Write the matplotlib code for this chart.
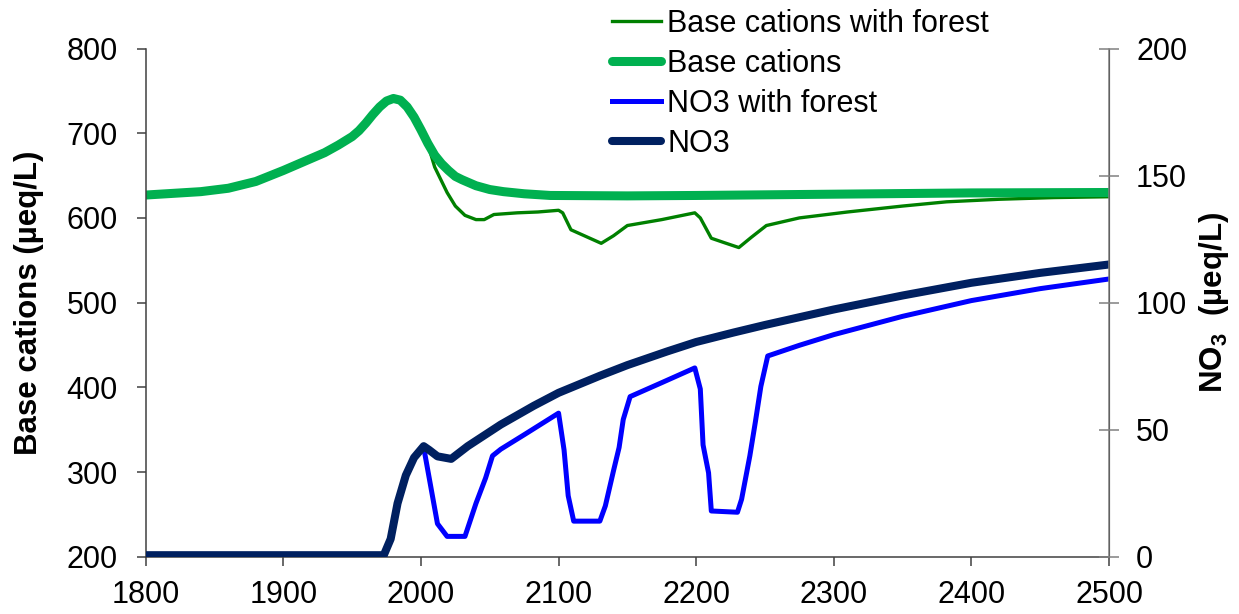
import matplotlib
matplotlib.use('Agg')
import matplotlib.pyplot as plt

plt.rcParams['font.family'] = ['Liberation Sans', 'DejaVu Sans']
plt.rcParams['mathtext.fontset'] = 'custom'
plt.rcParams['mathtext.rm'] = 'Liberation Sans:bold'
plt.rcParams['mathtext.bf'] = 'Liberation Sans:bold'

# Base cations (left axis, ueq/L)
bc_years = [1800, 1820, 1840, 1860, 1880, 1900, 1920, 1930, 1940, 1950, 1955, 1960,
            1965, 1970, 1975, 1980, 1985, 1990, 1995, 2000, 2005, 2010, 2015, 2020,
            2025, 2030, 2040, 2050, 2060, 2075, 2094, 2150, 2200, 2300, 2400, 2500]
bc_values = [627, 629, 631, 635, 643, 656, 670, 677, 686, 696, 703, 712,
             722, 731, 738, 741, 739, 731, 719, 704, 688, 674, 664, 656,
             649, 645, 638, 633.5, 631, 628.5, 626.5, 626, 626.5, 628, 629.5, 630]

bcf_years = [1800, 1820, 1840, 1860, 1880, 1900, 1920, 1930, 1940, 1950, 1955, 1960,
             1965, 1970, 1975, 1980, 1985, 1990, 1995, 2000, 2005, 2010, 2019, 2025,
             2032, 2040, 2046, 2053, 2070, 2085, 2100, 2103, 2109, 2120, 2131, 2140,
             2150, 2175, 2199, 2203, 2211, 2220, 2231, 2240, 2251, 2275, 2310, 2350,
             2382, 2420, 2460, 2500]
bcf_values = [627, 629, 631, 635, 643, 656, 670, 677, 686, 696, 703, 712,
              722, 731, 738, 741, 739, 731, 719, 704, 687, 660, 630, 614,
              603, 598, 598, 604, 606, 607, 609, 606, 586, 578, 570, 579,
              591, 598, 606, 600, 576, 571, 565, 577, 591, 600, 607, 614,
              619, 622, 624, 625]

# NO3 (right axis, ueq/L)
no3_years = [1800, 1973, 1978, 1983, 1989, 1995, 2002, 2006, 2012, 2022, 2034, 2058,
             2082, 2100, 2130, 2150, 2179, 2200, 2227, 2250, 2300, 2350, 2400, 2450,
             2500]
no3_values = [0.6, 0.6, 7, 21, 32, 39, 43.5, 42, 39.5, 38.5, 43.5, 52,
              59.4, 64.5, 71.2, 75.4, 80.8, 84.5, 88.2, 91.2, 97.3, 102.8, 107.8, 111.7,
              115]

no3f_years = [1800, 1973, 1978, 1983, 1989, 1995, 2002, 2007, 2012, 2019, 2032, 2040,
              2047, 2052, 2058, 2075, 2100, 2104, 2107, 2111, 2130, 2134, 2140, 2144,
              2147, 2152, 2175, 2199, 2203, 2205, 2209, 2211, 2230, 2233, 2239, 2243,
              2247, 2252, 2275, 2300, 2350, 2400, 2450, 2500]
no3f_values = [0.6, 0.6, 7, 21, 32, 39, 43, 28, 13, 8, 8, 21,
               31, 39.7, 42.3, 48, 56.5, 42, 24, 14, 14, 20, 34, 43,
               54, 63, 68.5, 74.3, 66, 44, 33, 18, 17.5, 22.6, 39.7, 53,
               67, 79, 83.2, 87.4, 94.6, 100.8, 105.5, 109.3]

fig = plt.figure(figsize=(12.39, 6.14), dpi=100)
ax = fig.add_axes([0.1176, 0.0933, 0.7775, 0.8277])
ax2 = ax.twinx()

l1, = ax.plot(bcf_years, bcf_values, color='#008000', lw=2.4, label='Base cations with forest')
l2, = ax.plot(bc_years, bc_values, color='#00B050', lw=6.5, label='Base cations',
              solid_capstyle='round')
l3, = ax2.plot(no3f_years, no3f_values, color='#0000FF', lw=3.6, label='NO3 with forest')
l4, = ax2.plot(no3_years, no3_values, color='#002060', lw=5.8, label='NO3',
               solid_capstyle='round')

ax.set_xlim(1800, 2500)
ax.set_ylim(200, 800)
ax2.set_ylim(0, 200)
ax.set_xticks(range(1800, 2501, 100))
ax.set_yticks(range(200, 801, 100))
ax2.set_yticks(range(0, 201, 50))

for a in (ax, ax2):
    a.spines['top'].set_visible(False)
ax.spines['left'].set_color('#404040')
ax.spines['bottom'].set_color('#404040')
ax2.spines['right'].set_color('#808080')
ax2.spines['left'].set_visible(False)
ax2.spines['bottom'].set_visible(False)
for s in ('left', 'bottom'):
    ax.spines[s].set_linewidth(1.1)
ax2.spines['right'].set_linewidth(1.1)

ax.tick_params(axis='y', direction='out', length=6.5, width=1.1, color='#404040',
               labelsize=22, pad=13.5)
ax.tick_params(axis='x', direction='out', length=6.5, width=1.1, color='#404040',
               labelsize=22, pad=10.5)
ax2.tick_params(axis='y', direction='inout', length=14, width=1.1, color='#808080',
                labelsize=22, pad=12.5)

ax.set_ylabel('Base cations (µeq/L)', fontsize=22.5, fontweight='bold', labelpad=16)
ax2.set_ylabel(r'NO$_3$  (µeq/L)', fontsize=22.5, fontweight='bold', labelpad=7)

fig.legend(handles=[l1, l2, l3, l4], loc='upper left', bbox_to_anchor=(0.494, 0.986),
           frameon=False, fontsize=22, handlelength=1.6, handletextpad=0.2,
           labelspacing=0.33, borderpad=0, borderaxespad=0)

fig.savefig('out.png', dpi=100)
